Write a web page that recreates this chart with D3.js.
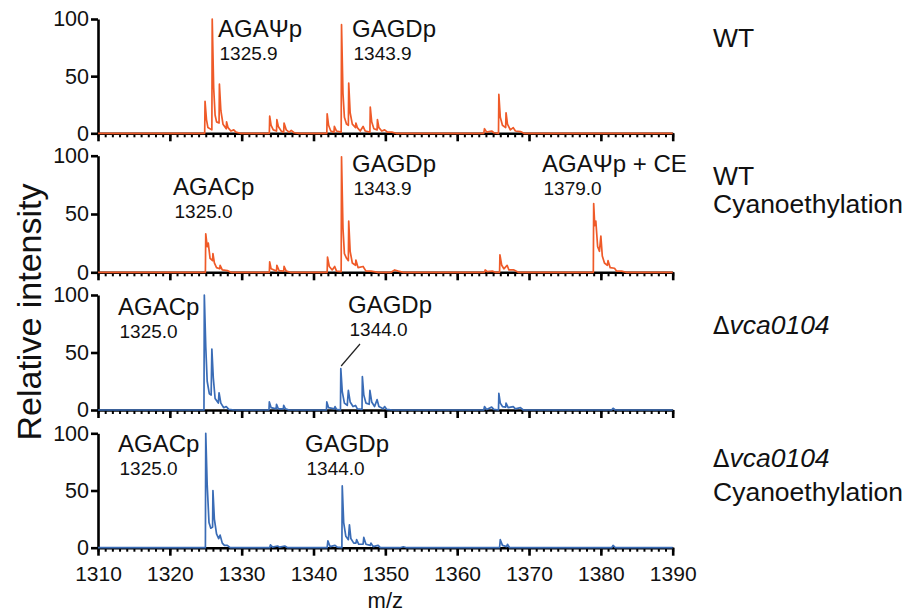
<!DOCTYPE html>
<html><head><meta charset="utf-8">
<script src="https://cdn.jsdelivr.net/npm/d3@7"></script>
<style>
body{margin:0;background:#fff}
svg{display:block}
text{font-family:"Liberation Sans",Arial,Helvetica,sans-serif;fill:#111}
</style>
</head><body>
<svg id="c" width="910" height="614"></svg>
<script>
// ---------------- data ----------------
const xMajorTicks = [1310,1320,1330,1340,1350,1360,1370,1380,1390];
const yTicks = [0,50,100];
const xTitle = "m/z";
const yTitle = "Relative intensity";

// spectra: [m/z, relative intensity] points
const specWT = [[1310,0],[1324.85,0],[1324.9,28],[1325.1,12],[1325.3,5],[1325.85,3],[1325.9,100],[1326.1,40],[1326.3,16],[1326.5,10],[1326.85,9],[1326.9,43],[1327.1,20],[1327.4,8],[1327.85,4],[1327.9,10],[1328.1,5],[1328.5,2],[1328.9,3],[1329.2,1],[1329.8,0],
[1333.85,0],[1333.9,15],[1334.1,7],[1334.4,3],[1334.85,2],[1334.9,12],[1335.1,6],[1335.5,2],[1335.85,1],[1335.9,9],[1336.2,3],[1336.6,1],[1336.9,2.5],[1337.3,0.5],[1338,0],
[1341.85,0],[1341.9,17],[1342.1,7],[1342.4,2],[1342.85,1],[1342.9,6],[1343.2,2],[1343.85,1],[1343.9,95],[1344.1,35],[1344.3,14],[1344.6,8],[1344.85,7],[1344.9,44],[1345.1,18],[1345.4,8],[1345.85,5],[1345.9,9],[1346.1,5],[1346.5,2],[1346.9,6],[1347.2,2],[1347.85,1],[1347.9,23],[1348.1,10],[1348.4,4],[1348.85,3],[1348.9,12],[1349.1,5],[1349.5,2],[1349.9,3],[1350.3,1],[1350.9,1],[1351.5,0],
[1363.7,0],[1363.8,4],[1364.1,1],[1364.8,2],[1365.1,0.5],[1365.75,0],[1365.8,34],[1366,14],[1366.3,7],[1366.75,5],[1366.8,18],[1367,8],[1367.4,3],[1367.8,5],[1368.1,2],[1368.8,1.5],[1369.3,0],[1390,0]];

const specWTCE = [[1310,0],[1324.95,0],[1325,33],[1325.2,22],[1325.35,25],[1325.6,12],[1325.95,10],[1326,16],[1326.2,8],[1326.5,4],[1326.95,3],[1327,6],[1327.3,2],[1328,1.5],[1328.5,0],
[1333.85,0],[1333.9,9],[1334.1,3],[1334.85,1],[1334.9,6],[1335.2,1.5],[1335.85,1],[1335.9,5],[1336.2,1],[1336.8,0],
[1341.9,0],[1341.95,13],[1342.2,5],[1342.6,2],[1342.95,5],[1343.2,1],[1343.85,0.5],[1343.9,99],[1344.1,38],[1344.3,16],[1344.6,12],[1344.85,10],[1344.9,44],[1345.1,18],[1345.4,8],[1345.85,6],[1345.9,10.5],[1346.2,4],[1346.9,5],[1347.3,1],[1348,1],[1349,0],[1350.8,0],[1351.3,2],[1351.8,1],[1352.5,0],
[1363.8,0],[1363.9,2],[1364.2,0.5],[1364.9,1],[1365.3,0],[1365.9,0],[1365.95,15],[1366.2,6],[1366.5,3],[1366.95,6],[1367.2,2],[1367.9,2],[1368.5,0],
[1378.95,0],[1379,59],[1379.15,40],[1379.3,44],[1379.55,22],[1379.8,18],[1380,31],[1380.2,14],[1380.5,8],[1380.9,6],[1381,10],[1381.3,4],[1381.9,3.5],[1382.2,1],[1382.9,1],[1383.5,0],[1390,0]];

const specKO = [[1310,0],[1324.75,0],[1324.8,100],[1325.0,55],[1325.2,25],[1325.5,14],[1325.75,13],[1325.85,53],[1326.05,28],[1326.3,10],[1326.75,6],[1326.85,15],[1327.1,6],[1327.5,2],[1327.85,3],[1328.2,0.5],[1329,0],
[1333.8,0],[1333.85,7],[1334.1,2],[1334.8,1],[1334.85,5],[1335.1,1],[1335.8,1],[1335.85,4],[1336.1,1],[1336.6,0],
[1341.8,0],[1341.85,7],[1342.1,2],[1342.9,1],[1343,3],[1343.2,0.5],[1343.75,0],[1343.8,36],[1344,16],[1344.3,6],[1344.7,4],[1344.85,17],[1345.1,7],[1345.5,3],[1345.85,4],[1346.1,1],[1346.75,0.5],[1346.8,29],[1347,13],[1347.3,6],[1347.75,5],[1347.85,17],[1348.1,7],[1348.5,3],[1348.85,9],[1349.1,3],[1349.7,1],[1349.9,3],[1350.2,0.5],[1351,0],
[1363.7,0],[1363.8,3],[1364.1,0.5],[1364.8,2.5],[1365.1,0.5],[1365.75,0],[1365.8,14.5],[1366,6],[1366.3,3],[1366.75,2.5],[1366.8,6],[1367.1,2],[1367.8,3],[1368.1,1],[1368.8,2],[1369.2,0],[1381.5,0],[1381.7,1.5],[1382,0],[1390,0]];

const specKOCE = [[1310,0],[1324.95,0],[1325,100],[1325.2,55],[1325.45,22],[1325.7,17],[1325.95,18],[1326,50],[1326.2,25],[1326.5,12],[1326.8,8],[1327,11],[1327.3,4],[1327.6,2],[1328,2],[1328.4,0],
[1333.9,0],[1334,2.5],[1334.3,0.5],[1335,1.5],[1335.3,0.5],[1336,1.5],[1336.4,0],
[1341.9,0],[1342,6],[1342.3,1],[1343,2],[1343.3,0.5],[1343.95,0],[1344,54],[1344.2,22],[1344.5,10],[1344.85,7],[1345,20],[1345.2,8],[1345.6,4],[1345.9,4],[1346,7],[1346.3,3],[1346.9,3],[1347,9],[1347.3,3],[1347.9,2],[1348,4],[1348.3,1],[1349,2],[1349.3,0],[1352,0],[1352.5,0.8],[1353,0],
[1365.9,0],[1366,7],[1366.3,2],[1366.9,1],[1367,3],[1367.3,0],[1381.5,0],[1381.7,2],[1382,0],[1390,0]];

const spectra = [specWT, specWTCE, specKO, specKOCE];
const seriesColors = ["#ef5a28","#ef5a28","#3a6cb6","#3a6cb6"];

// peak annotations per panel: [name, m/z label]
const peakNames = [["AGA\u03A8p","GAGDp"],["AGACp","GAGDp","AGA\u03A8p + CE"],["AGACp","GAGDp"],["AGACp","GAGDp"]];
const peakMasses = [["1325.9","1343.9"],["1325.0","1343.9","1379.0"],["1325.0","1344.0"],["1325.0","1344.0"]];

// right-hand panel labels
const panelLabels = [[["WT"]],[["WT"],["Cyanoethylation"]],[["\u0394","vca0104"]],[["\u0394","vca0104"],["Cyanoethylation"]]];

// ---------------- layout ----------------
const svg = d3.select("#c");
const xLeft = 98, xRight = 672.7;
const panelTop = [19, 155.7, 295, 433.3];
const panelBot = [133.3, 272.3, 410, 547.7];

const x = d3.scaleLinear().domain([1310,1390]).range([xLeft,xRight]);
const minorTicks = d3.range(1310,1391,1);

// annotation placement (text left x, name baseline), in px
const annPos = [[[218,37],[352,37]],[[173,195],[352,172],[542,172]],[[118,315],[348,313]],[[118,452],[305,452]]];
const labelPos = [[47],[185,213],[334],[467,501]];

spectra.forEach((spec,i)=>{
  const y = d3.scaleLinear().domain([0,100]).range([panelBot[i],panelTop[i]]);
  const g = svg.append("g");

  // x axis minor ticks
  const gxm = g.append("g").attr("transform",`translate(0,${panelBot[i]})`)
    .call(d3.axisBottom(x).tickValues(minorTicks).tickSize(4).tickSizeOuter(0).tickFormat(""));
  gxm.select(".domain").remove();
  gxm.selectAll(".tick line").attr("stroke","#000").attr("stroke-width",2);
  // x axis major ticks
  const gx = g.append("g").attr("transform",`translate(0,${panelBot[i]})`)
    .call(d3.axisBottom(x).tickValues(xMajorTicks).tickSize(8).tickSizeOuter(0).tickPadding(10)
      .tickFormat(i===3 ? d3.format("d") : ""));
  gx.select(".domain").attr("stroke","#000").attr("stroke-width",2.6);
  gx.selectAll(".tick line").attr("stroke","#000").attr("stroke-width",2.6);
  gx.selectAll(".tick text").attr("font-size",21).attr("fill","#111");

  // y axis
  const gy = g.append("g").attr("transform",`translate(${xLeft},0)`)
    .call(d3.axisLeft(y).tickValues(yTicks).tickSize(7).tickSizeOuter(0).tickPadding(2));
  gy.select(".domain").attr("stroke","#000").attr("stroke-width",2.6);
  gy.selectAll(".tick line").attr("stroke","#000").attr("stroke-width",2.6);
  gy.selectAll(".tick text").attr("font-size",21.5).attr("fill","#111");
  gy.selectAll("text").attr("font-family",null);

  // spectrum
  const line = d3.line().x(d=>x(d[0])).y(d=>y(d[1]));
  g.append("path").datum(spec).attr("d",line)
    .attr("fill","none").attr("stroke",seriesColors[i]).attr("stroke-width",1.7)
    .attr("stroke-linejoin","round");

  // annotations
  peakNames[i].forEach((nm,k)=>{
    const [ax,ay] = annPos[i][k];
    g.append("text").attr("x",ax).attr("y",ay).attr("font-size",24).text(nm);
    g.append("text").attr("x",ax+1.5).attr("y",ay+23).attr("font-size",19).text(peakMasses[i][k]);
  });

  // right labels
  panelLabels[i].forEach((ln,k)=>{
    const t = g.append("text").attr("x",713).attr("y",labelPos[i][k]).attr("font-size",26.5);
    if(ln.length===2){
      t.append("tspan").attr("font-family","DejaVu Sans").attr("font-size",24).text(ln[0]);
      t.append("tspan").attr("font-style","italic").text(ln[1]);
    } else t.text(ln[0]);
  });
});

// leader line in panel 3
svg.append("line").attr("x1",x(1343.85)).attr("y1",366).attr("x2",360).attr("y2",344)
  .attr("stroke","#222").attr("stroke-width",1.2);

// axis titles
svg.append("text").attr("x",(xLeft+xRight)/2).attr("y",608).attr("text-anchor","middle")
  .attr("font-size",22).text(xTitle);
svg.append("text").attr("transform","translate(41,312) rotate(-90)").attr("text-anchor","middle")
  .attr("font-size",34).text(yTitle);
</script>
</body></html>
